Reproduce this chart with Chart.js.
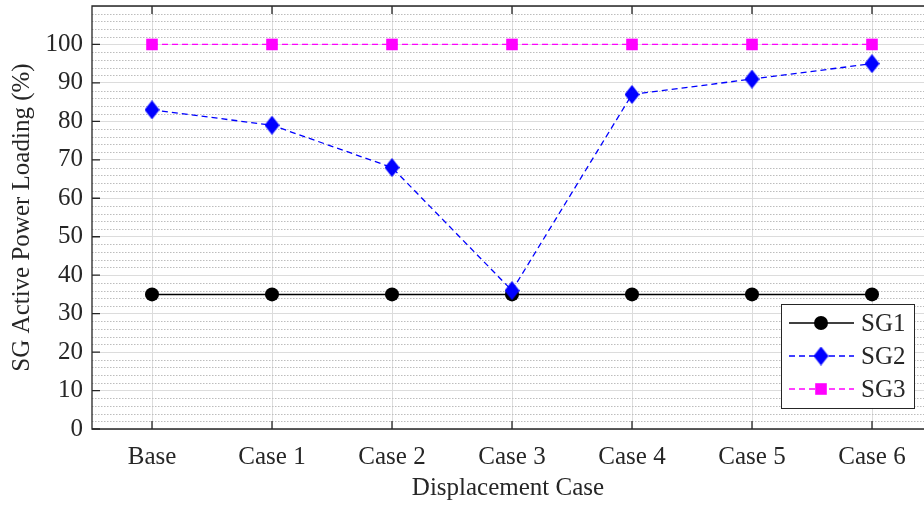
<!DOCTYPE html>
<html>
<head>
<meta charset="utf-8">
<script src="https://cdn.jsdelivr.net/npm/chart.js@4/dist/chart.umd.min.js"></script>
<style>
  html, body { margin: 0; padding: 0; background: #fff; }
  #wrap { width: 924px; height: 505px; position: relative; overflow: hidden; }
</style>
</head>
<body>
<div id="wrap"><canvas id="chart"></canvas></div>
<script>
const cases = ['Base', 'Case 1', 'Case 2', 'Case 3', 'Case 4', 'Case 5', 'Case 6'];
const sg1 = [35, 35, 35, 35, 35, 35, 35];
const sg2 = [83, 79, 68, 36, 87, 91, 95];
const sg3 = [100, 100, 100, 100, 100, 100, 100];
const yTickValues = [0, 10, 20, 30, 40, 50, 60, 70, 80, 90, 100];

const FONT = '"Liberation Serif", "Times New Roman", serif';
const INK = '#262626';

// MATLAB style diamond (taller than wide)
function makeDiamond(w, h, color) {
  const c = document.createElement('canvas');
  c.width = w; c.height = h;
  const g = c.getContext('2d');
  g.fillStyle = color;
  g.beginPath();
  g.moveTo(w / 2, 0);
  g.lineTo(w, h / 2);
  g.lineTo(w / 2, h);
  g.lineTo(0, h / 2);
  g.closePath();
  g.fill();
  return c;
}
const diamond = makeDiamond(15, 19, '#0000ff');

function toPoints(values) {
  return values.map((v, i) => ({ x: i + 1, y: v }));
}

const series = [
  { label: 'SG1', data: sg1, color: '#000000', dash: [], style: 'circle', radius: 7, width: 1.5 },
  { label: 'SG2', data: sg2, color: '#0000ff', dash: [6, 4], style: diamond, radius: 9, width: 1.3 },
  { label: 'SG3', data: sg3, color: '#ff00ff', dash: [6, 4], style: 'rect', radius: 8.2, width: 1.3 },
];

const frame = {
  id: 'frame',
  beforeDatasetsDraw(chart) {
    const { ctx, chartArea: a, scales: { y } } = chart;
    ctx.save();
    ctx.strokeStyle = '#bdbdbd';
    ctx.lineWidth = 1;
    ctx.setLineDash([1.5, 1.5]);
    for (let v = 2; v < 110; v += 2) {
      if (v % 10 === 0) continue;
      const py = Math.round(y.getPixelForValue(v)) + 0.5;
      ctx.beginPath();
      ctx.moveTo(a.left, py);
      ctx.lineTo(a.right, py);
      ctx.stroke();
    }
    ctx.restore();
  },
  afterDraw(chart) {
    const { ctx, chartArea: a, scales: { x, y } } = chart;
    ctx.save();
    ctx.strokeStyle = INK;
    ctx.lineWidth = 1.3;
    ctx.beginPath();
    ctx.moveTo(a.right, a.top);
    ctx.lineTo(a.left, a.top);
    ctx.lineTo(a.left, a.bottom);
    ctx.lineTo(a.right, a.bottom);
    ctx.stroke();

    // inward ticks
    ctx.beginPath();
    yTickValues.forEach(v => {
      const py = y.getPixelForValue(v);
      ctx.moveTo(a.left, py);
      ctx.lineTo(a.left + 8, py);
    });
    cases.forEach((c, i) => {
      const px = x.getPixelForValue(i + 1);
      ctx.moveTo(px, a.bottom);
      ctx.lineTo(px, a.bottom - 8);
      ctx.moveTo(px, a.top);
      ctx.lineTo(px, a.top + 8);
    });
    ctx.stroke();

    // legend
    const bx = 781, by = 304, bw = 133, bh = 104;
    ctx.fillStyle = '#fff';
    ctx.fillRect(bx, by, bw, bh);
    ctx.lineWidth = 1;
    ctx.strokeStyle = INK;
    ctx.strokeRect(bx + 0.5, by + 0.5, bw, bh);
    const rows = [323, 356, 389];
    series.forEach((s, i) => {
      const ly = rows[i];
      ctx.strokeStyle = s.color;
      ctx.lineWidth = s.width;
      ctx.setLineDash(s.dash);
      ctx.beginPath();
      ctx.moveTo(789, ly);
      ctx.lineTo(854, ly);
      ctx.stroke();
      ctx.setLineDash([]);
      ctx.fillStyle = s.color;
      Chart.helpers.drawPoint(ctx, { pointStyle: s.style, radius: s.radius, borderWidth: 0 }, 821, ly);
      ctx.fillStyle = INK;
      ctx.font = '25px ' + FONT;
      ctx.textBaseline = 'middle';
      ctx.textAlign = 'left';
      ctx.fillText(s.label, 861, ly + 1);
    });
    ctx.restore();
  }
};

new Chart(document.getElementById('chart'), {
  type: 'line',
  data: {
    // later series drawn on top, like MATLAB's hold on
    datasets: series.map((s, i) => ({
      label: s.label,
      data: toPoints(s.data),
      order: series.length - i,
      borderColor: s.color,
      backgroundColor: s.color,
      borderWidth: s.width,
      borderDash: s.dash,
      pointStyle: s.style,
      pointRadius: s.radius,
      pointHoverRadius: s.radius,
      pointBorderWidth: 0,
      tension: 0,
      fill: false,
    })),
  },
  options: {
    responsive: true,
    maintainAspectRatio: false,
    animation: false,
    events: [],
    layout: { autoPadding: false, padding: { top: 6, left: 0, right: 0, bottom: 0 } },
    plugins: {
      legend: { display: false },
      tooltip: { enabled: false },
    },
    scales: {
      x: {
        type: 'linear',
        min: 0.5,
        max: 0.5 + 832 / 120,
        afterBuildTicks: s => { s.ticks = cases.map((c, i) => ({ value: i + 1 })); },
        afterFit: s => {
          s.height = 76;
          s.paddingLeft = 0; s.paddingRight = 0;
        },
        ticks: {
          autoSkip: false,
          maxRotation: 0,
          padding: 13,
          color: INK,
          font: { family: FONT, size: 25 },
          callback: v => cases[v - 1],
        },
        grid: { color: '#dcdcdc', lineWidth: 1, drawTicks: false },
        border: { display: false },
        title: {
          display: true,
          text: 'Displacement Case',
          color: INK,
          font: { family: FONT, size: 25 },
          padding: { top: 0, bottom: 2 },
        },
      },
      y: {
        min: 0,
        max: 110,
        afterFit: s => {
          s.width = 92;
          s.paddingTop = 0; s.paddingBottom = 0;
        },
        ticks: {
          stepSize: 10,
          padding: 9,
          color: INK,
          font: { family: FONT, size: 25 },
          callback: v => (v > 100 ? '' : v),
        },
        grid: { color: '#dcdcdc', lineWidth: 1, drawTicks: false },
        border: { display: false },
        title: {
          display: true,
          text: 'SG Active Power Loading (%)',
          color: INK,
          font: { family: FONT, size: 25 },
          padding: { top: 7, bottom: 0 },
        },
      },
    },
  },
  plugins: [frame],
});
</script>
</body>
</html>
